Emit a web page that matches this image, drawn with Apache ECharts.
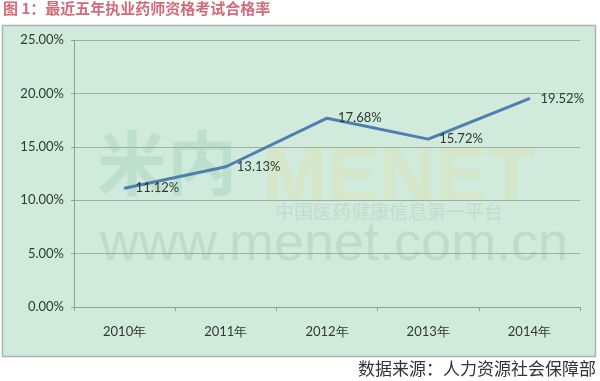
<!DOCTYPE html>
<html><head><meta charset="utf-8">
<script src="https://cdn.jsdelivr.net/npm/echarts@6/dist/echarts.min.js"></script>
<style>html,body{margin:0;padding:0;background:#fff}#c{width:600px;height:381px}</style>
</head><body><div id="c"></div>
<script>
const categories = ['2010年', '2011年', '2012年', '2013年', '2014年'];
const passRates = [11.12, 13.13, 17.68, 15.72, 19.52];
const yTicks = [0, 5, 10, 15, 20, 25];
const titleText = '图 1：最近五年执业药师资格考试合格率';
const sourceText = '数据来源：人力资源社会保障部';

const chart = echarts.init(document.getElementById('c'), null, {renderer: 'canvas'});
chart.setOption({
  animation: false,
  backgroundColor: '#ffffff',
  graphic: [
    {type: 'rect', z: -10, shape: {x: 2.5, y: 25.5, width: 593, height: 331},
     style: {fill: '#d0eadb', stroke: '#a9b5ad', lineWidth: 1.5}},
    {type: 'text', z: -5, left: 97, top: 128,
     style: {text: '米内', fill: 'rgba(95,170,140,0.16)', font: 'bold 70px "Noto Sans CJK SC"'}},
    {type: 'text', z: -5, left: 262, top: 140,
     style: {text: 'MENET', fill: 'rgba(225,225,170,0.35)', font: 'bold 78px "Liberation Sans"'}},
    {type: 'text', z: -5, left: 275, top: 202,
     style: {text: '中国医药健康信息第一平台', fill: 'rgba(150,170,160,0.22)', font: '19px "Noto Sans CJK SC"'}},
    {type: 'text', z: -5, left: 100, top: 218,
     style: {text: 'www.menet.com.cn', fill: 'rgba(140,165,150,0.22)', font: '54px "Liberation Sans"'}},
    {type: 'text', left: 3, top: 1,
     style: {text: titleText, fill: '#d26a78', font: 'bold 15px "Noto Sans CJK SC"'}},
    {type: 'text', right: 4, top: 360,
     style: {text: sourceText, fill: '#333333', font: '17px "Noto Sans CJK SC"'}}
  ],
  grid: {left: 74, right: 20, top: 40, bottom: 74},
  xAxis: {
    type: 'category', data: categories, boundaryGap: true,
    axisLine: {lineStyle: {color: '#8aa394', width: 1}},
    axisTick: {show: true, length: 4, lineStyle: {color: '#8aa394'}},
    axisLabel: {color: '#2e3a33', fontSize: 13, margin: 18, fontFamily: 'Lato'}
  },
  yAxis: {
    type: 'value', min: 0, max: 25, interval: 5,
    axisLine: {show: true, lineStyle: {color: '#8aa394', width: 1}},
    axisTick: {show: true, length: 3, lineStyle: {color: '#8aa394'}},
    splitLine: {lineStyle: {color: '#9bb0a2', width: 1}},
    axisLabel: {color: '#2e3a33', fontSize: 13, margin: 10, fontFamily: 'Lato',
      formatter: v => v.toFixed(2) + '%'}
  },
  series: [{
    type: 'line', data: passRates, symbol: 'circle', symbolSize: 2, showSymbol: true,
    itemStyle: {color: '#4e7fae'},
    lineStyle: {color: '#4e7fae', width: 3},
    labelLayout: {hideOverlap: false},
    label: {show: true, position: 'right', distance: 10, offset: [0, 3],
      color: '#2e3a33', fontSize: 13, fontFamily: 'Lato',
      formatter: p => p.value.toFixed(2) + '%'}
  }]
});
</script></body></html>
